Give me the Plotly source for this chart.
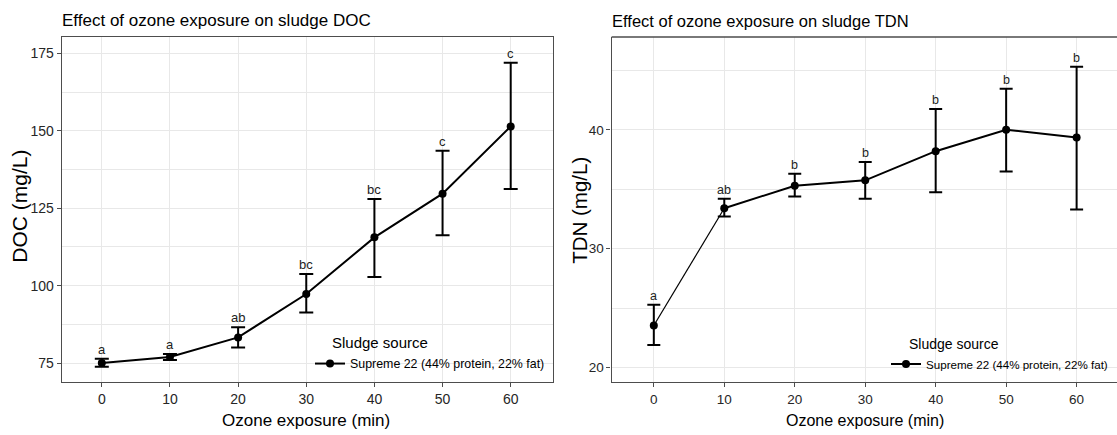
import plotly.graph_objects as go

# ---------------- data ----------------
ozone_min = [0, 10, 20, 30, 40, 50, 60]

doc_mean = [75.0, 77.0, 83.3, 97.3, 115.6, 129.7, 151.4]
doc_upper = [76.4, 77.9, 86.6, 103.8, 128.0, 143.6, 172.0]
doc_lower = [73.8, 76.0, 80.0, 91.3, 102.8, 116.3, 131.2]
doc_letters = ["a", "a", "ab", "bc", "bc", "c", "c"]

tdn_mean = [23.55, 33.4, 35.3, 35.75, 38.2, 40.0, 39.35]
tdn_upper = [25.3, 34.2, 36.3, 37.3, 41.75, 43.45, 45.3]
tdn_lower = [21.9, 32.7, 34.4, 34.2, 34.75, 36.5, 33.3]
tdn_letters = ["a", "ab", "b", "b", "b", "b", "b"]

series_name = "Supreme 22 (44% protein, 22% fat)"
legend_title = "Sludge source"
x_title = "Ozone exposure (min)"
doc_title = "DOC (mg/L)"
tdn_title = "TDN (mg/L)"
doc_plot_title = "Effect of ozone exposure on sludge DOC"
tdn_plot_title = "Effect of ozone exposure on sludge TDN"
x_ticks = [0, 10, 20, 30, 40, 50, 60]
doc_ticks = [75, 100, 125, 150, 175]
tdn_ticks = [20, 30, 40]

# ---------------- layout constants ----------------
W, H = 1117, 435
FONT = "Liberation Sans, Arial, sans-serif"
GRID = "#e8e8e8"
BORDER = "#4d4d4d"
TICKTXT = "#262626"


def px_x(p):
    return p / W


def px_y(p):
    return 1 - p / H


fig = go.Figure()


def add_panel(xs, mean, upper, lower, letters, xa, ya, legend, cap, lsize, thin_first=False):
    err_p = [u - m for u, m in zip(upper, mean)]
    err_m = [m - l for m, l in zip(mean, lower)]
    start = 0
    if thin_first:
        fig.add_trace(go.Scatter(
            x=xs[:2], y=mean[:2], mode="lines",
            line=dict(color="black", width=1.2),
            xaxis=xa, yaxis=ya, showlegend=False, hoverinfo="skip"))
        fig.add_trace(go.Scatter(
            x=xs[:1], y=mean[:1], mode="markers",
            marker=dict(color="black", size=8),
            error_y=dict(type="data", symmetric=False, array=err_p[:1],
                         arrayminus=err_m[:1], color="black", thickness=2, width=cap),
            xaxis=xa, yaxis=ya, showlegend=False))
        start = 1
    fig.add_trace(go.Scatter(
        x=xs[start:], y=mean[start:], mode="lines+markers",
        name=series_name,
        line=dict(color="black", width=2),
        marker=dict(color="black", size=8),
        error_y=dict(type="data", symmetric=False, array=err_p[start:],
                     arrayminus=err_m[start:], color="black", thickness=2, width=cap),
        xaxis=xa, yaxis=ya, legend=legend, showlegend=True))
    for x, u, t in zip(xs, upper, letters):
        fig.add_annotation(x=x, y=u, xref=xa, yref=ya, text=t, showarrow=False,
                           yanchor="bottom", yshift=0,
                           font=dict(family=FONT, size=lsize, color="#222222"))


add_panel(ozone_min, doc_mean, doc_upper, doc_lower, doc_letters, "x", "y", "legend", 7, 13)
add_panel(ozone_min, tdn_mean, tdn_upper, tdn_lower, tdn_letters, "x2", "y2", "legend2", 6.5, 12.5,
          thin_first=True)


def axis(size):
    return dict(
        showgrid=True, gridcolor=GRID, gridwidth=1,
        ticks="outside", ticklen=4, tickcolor=BORDER, tickwidth=1,
        tickfont=dict(family=FONT, size=size, color=TICKTXT),
        zeroline=False, automargin=False,
        showline=True, linecolor=BORDER, linewidth=1.3,
    )


top, bottom = 37, 382.3
fig.update_layout(
    width=W, height=H,
    margin=dict(l=0, r=0, t=0, b=0, autoexpand=False),
    paper_bgcolor="white", plot_bgcolor="white",
    font=dict(family=FONT, color="black"),
    xaxis=dict(domain=[px_x(61.8), px_x(552.9)], range=[-5.87, 66.19], tickvals=x_ticks,
               mirror=True, anchor="y", **axis(14)),
    yaxis=dict(domain=[px_y(bottom), px_y(top)], range=[68.8, 180.3], tickvals=doc_ticks,
               mirror=True,
               minor=dict(dtick=12.5, showgrid=True, gridcolor=GRID, ticks=""),
               anchor="x", **axis(14)),
    xaxis2=dict(domain=[px_x(611.6), 1.0], range=[-5.99, 65.73], tickvals=x_ticks,
                mirror=False, anchor="y2", **axis(13.5)),
    yaxis2=dict(domain=[px_y(bottom), px_y(top)], range=[18.77, 47.8], tickvals=tdn_ticks,
                mirror=False,
                minor=dict(dtick=5, tick0=0, showgrid=True, gridcolor=GRID, ticks=""),
                anchor="x2", **axis(13.5)),
    legend=dict(x=px_x(310), y=px_y(364), xanchor="left", yanchor="middle",
                bgcolor="rgba(0,0,0,0)", itemwidth=30,
                font=dict(family=FONT, size=12.4, color="black")),
    legend2=dict(x=px_x(886), y=px_y(364), xanchor="left", yanchor="middle",
                 bgcolor="rgba(0,0,0,0)", itemwidth=30,
                 font=dict(family=FONT, size=11.6, color="black")),
    showlegend=True,
)

# top border of the right panel (its right edge is cut off in the reference)
fig.add_shape(type="line", xref="x2 domain", yref="y2 domain", x0=0, x1=1, y0=1, y1=1,
              line=dict(color=BORDER, width=1.3))


def text(t, x, y, size, xanchor="left", angle=0):
    fig.add_annotation(text=t, xref="paper", yref="paper", x=px_x(x), y=px_y(y),
                       xanchor=xanchor, yanchor="middle", showarrow=False, textangle=angle,
                       font=dict(family=FONT, size=size, color="black"))


# panel titles
text(doc_plot_title, 60, 21, 17)
text(tdn_plot_title, 610, 21, 16.5)
# axis titles
text(x_title, 305.5, 420, 17, "center")
text(x_title, 865, 420, 16, "center")
text(doc_title, 20, 206.7, 21, "center", -90)
text(tdn_title, 580, 210.8, 20.5, "center", -90)
# legend titles
text(legend_title, 330, 342.7, 15)
text(legend_title, 907.5, 343.5, 14)

fig.write_html(
    "out.html",
    config={"displayModeBar": False},
    post_script="document.body.style.margin='0';document.body.style.overflow='hidden';",
)
